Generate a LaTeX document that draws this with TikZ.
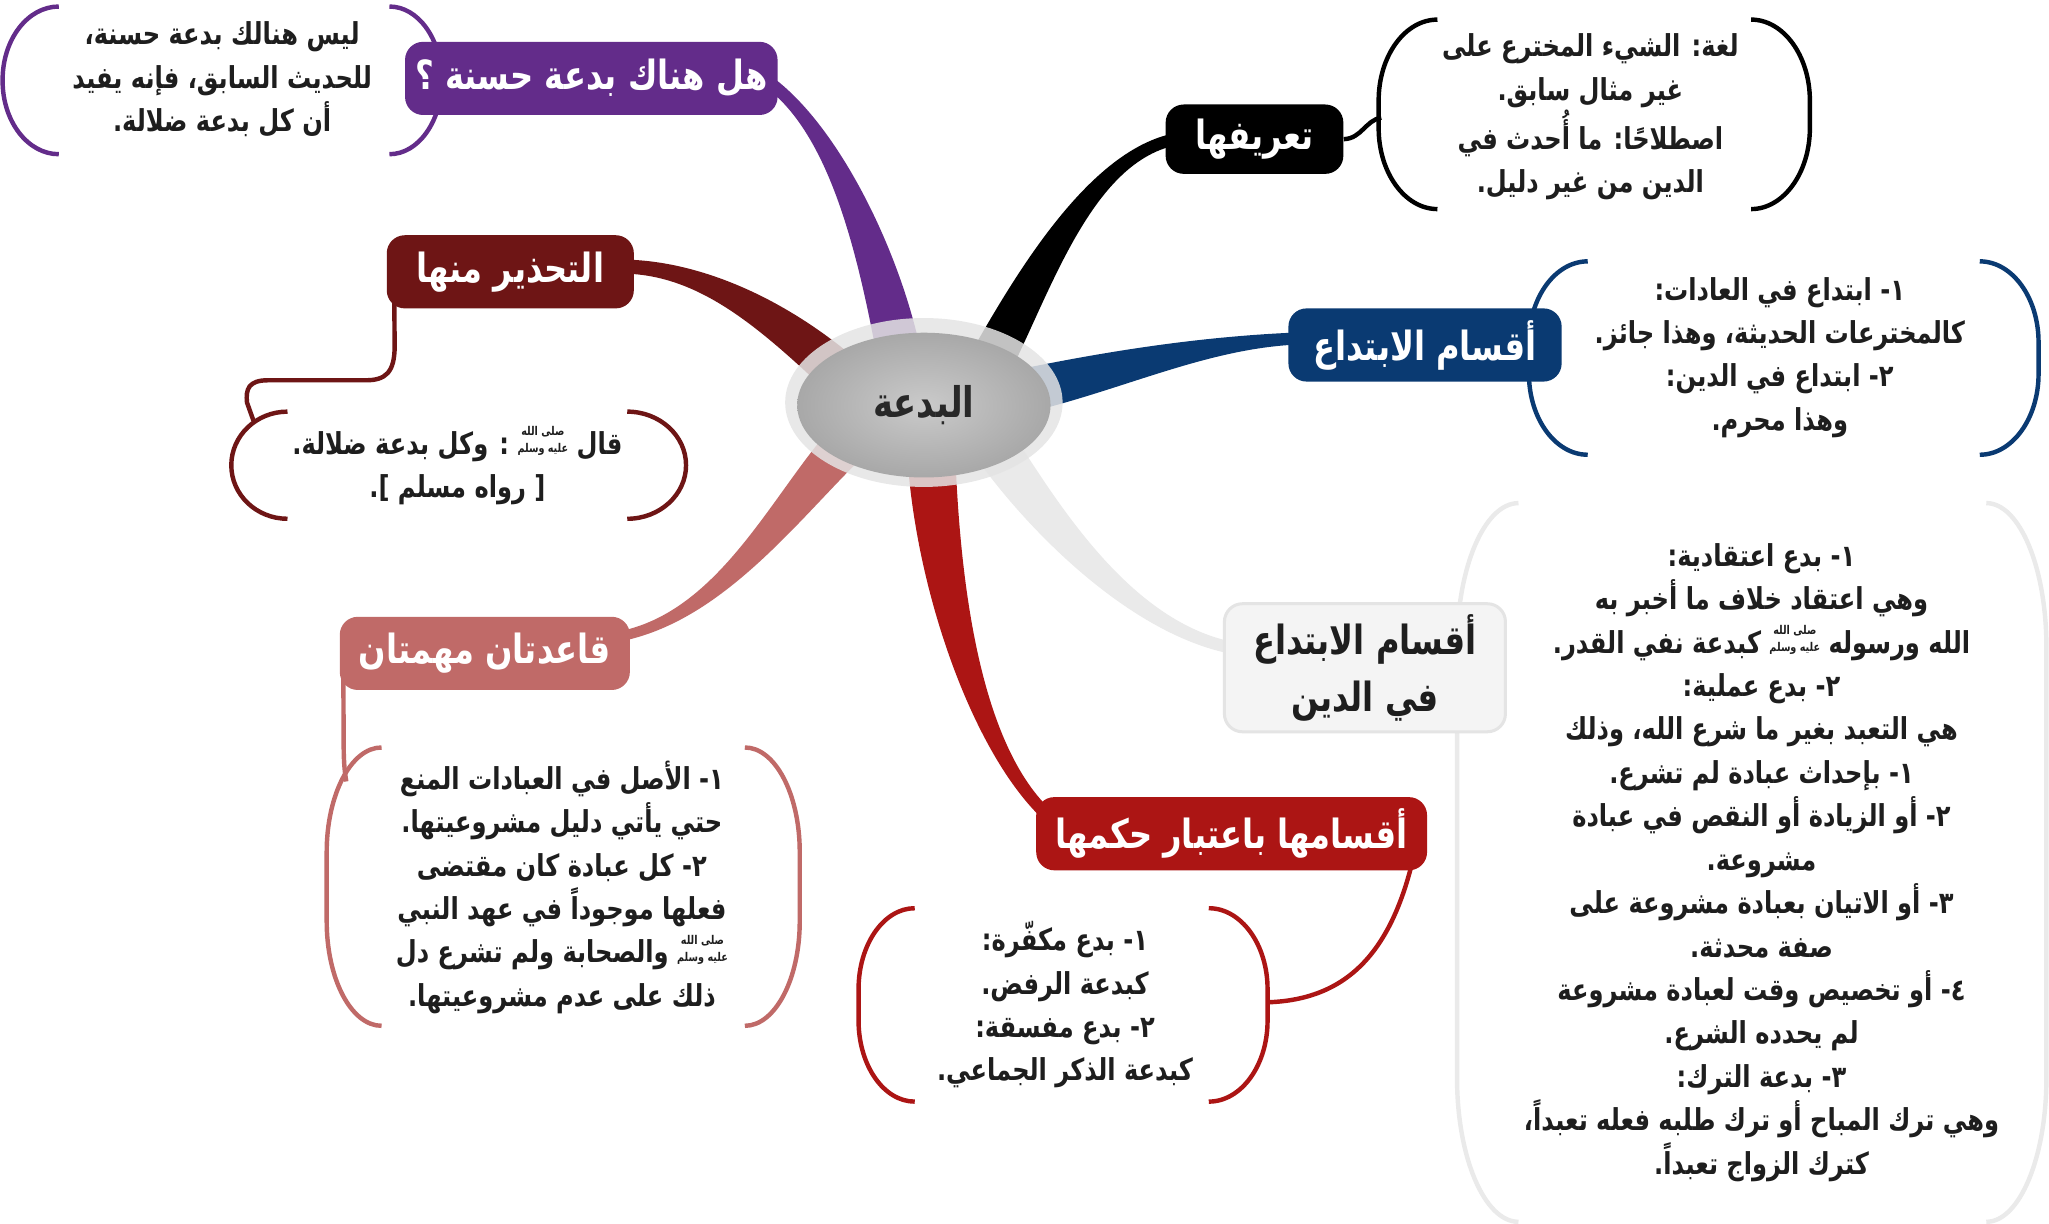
\documentclass[tikz,border=0pt]{standalone}
\usepackage{fontspec}
\newfontfamily\arfont[Script=Arabic,FakeStretch=0.8]{DejaVu Sans}
\TeXXeTstate=1
\usetikzlibrary{calc,backgrounds,shapes.geometric}
\definecolor{cpur}{RGB}{99,44,138}
\definecolor{cnavy}{RGB}{10,58,114}
\definecolor{cred}{RGB}{172,21,20}
\definecolor{cpink}{RGB}{192,106,104}
\definecolor{cdred}{RGB}{110,21,21}
\definecolor{cgline}{RGB}{234,234,234}
\definecolor{cgfill}{RGB}{244,244,244}
\definecolor{cgbord}{RGB}{228,228,228}
\definecolor{ctext}{RGB}{30,30,30}
\newcommand\rl[1]{\beginR #1\endR}
\newcommand\pbuh{\raisebox{0.05em}{\fontsize{6}{5.2}\selectfont\shortstack{\beginR صلى الله\endR\\\beginR عليه وسلم\endR}}}
\newcommand\brL[6]{\draw[#1,bub] (#3,#4) .. controls ({#2+0.448*(#3-#2)},#4) and (#2,{#4+0.448*#6}) .. (#2,{#4+#6}) -- (#2,{#5-#6}) .. controls (#2,{#5-0.448*#6}) and ({#2+0.448*(#3-#2)},#5) .. (#3,#5);}
\newcommand\brR[6]{\draw[#1,bub] (#2,#4) .. controls ({#3-0.448*(#3-#2)},#4) and (#3,{#4+0.448*#6}) .. (#3,{#4+#6}) -- (#3,{#5-#6}) .. controls (#3,{#5-0.448*#6}) and ({#3-0.448*(#3-#2)},#5) .. (#2,#5);}
\newcommand\ribbon[7]{%
  \path #2 coordinate (rS) #3 coordinate (rA) #4 coordinate (rB) #5 coordinate (rE);
  \path ($(rS)!#6!90:(rA)$) coordinate (rS1) ($(rS)!#6!-90:(rA)$) coordinate (rS2)
        ($(rE)!#7!-90:(rB)$) coordinate (rE1) ($(rE)!#7!90:(rB)$) coordinate (rE2);
  \fill[#1] (rS1) .. controls ($(rA)+(rS1)-(rS)$) and ($(rB)+(rE1)-(rE)$) .. (rE1)
     -- (rE2) .. controls ($(rB)+(rE2)-(rE)$) and ($(rA)+(rS2)-(rS)$) .. (rS2) -- cycle;}
\begin{document}
\begin{tikzpicture}[x=0.65pt,y=-0.65pt,
  bub/.style={line width=2.2pt},
  thin/.style={line width=2.2pt},
  topic/.style={rounded corners=9pt, text=white, font=\arfont\bfseries\fontsize{20}{26}\selectfont, minimum height=36.4pt, inner sep=0pt},
  note/.style={text=ctext, align=center, font=\arfont\bfseries\fontsize{15}{21.6}\selectfont, inner sep=0pt}]
\useasboundingbox (0,0) rectangle (1568,936);
% central
\node[ellipse, fill={rgb,255:red,228;green,228;blue,228}, fill opacity=0.85, minimum width=138pt, minimum height=84pt] (halo) at (707,308) {};
\node[ellipse, shade, inner color={rgb,255:red,202;green,202;blue,202}, outer color={rgb,255:red,168;green,168;blue,168}, minimum width=126pt, minimum height=72pt, text={rgb,255:red,40;green,40;blue,40}, font=\arfont\bfseries\fontsize{21}{24}\selectfont] (c) at (707,310) {\rl{البدعة}};
% topics
\node[topic, fill=cpur, minimum width=185.3pt] (q) at (452.5,60) {\rl{هل هناك بدعة حسنة ؟}};
\node[topic, fill=black, minimum width=88.4pt, minimum height=34.5pt] (tarif) at (960,106.5) {\rl{تعريفها}};
\node[topic, fill=cnavy, minimum width=135.9pt] (aqsam) at (1090.5,264) {\rl{أقسام الابتداع}};
\node[topic, fill=cgfill, draw=cgbord, line width=1.5pt, text=ctext, align=center, minimum width=139.8pt, minimum height=63.7pt, font=\arfont\bfseries\fontsize{20}{28.6}\selectfont] (aqdin) at (1044.5,511) {\rl{أقسام الابتداع}\\\rl{في الدين}};
\node[topic, fill=cred, minimum width=194.4pt] (hukm) at (942.5,638) {\rl{أقسامها باعتبار حكمها}};
\node[topic, fill=cpink, minimum width=144.3pt] (qaw) at (371,500) {\rl{قاعدتان مهمتان}};
\node[topic, fill=cdred, minimum width=122.9pt] (tah) at (390.5,208) {\rl{التحذير منها}};
% notes
\node[note] (nq) at (170,61) {\rl{ليس هنالك بدعة حسنة،}\\\rl{للحديث السابق، فإنه يفيد}\\\rl{أن كل بدعة ضلالة.}};
\node[note] (nt) at (1217,89.5) {\rl{لغة: الشيء المخترع على}\\\rl{غير مثال سابق.}\\\rl{اصطلاحًا: ما أُحدث في}\\\rl{الدين من غير دليل.}};
\node[note] (na) at (1362,273.5) {\rl{١- ابتداع في العادات:}\\\rl{كالمخترعات الحديثة، وهذا جائز.}\\\rl{٢- ابتداع في الدين:}\\\rl{وهذا محرم.}};
\node[note] (nd) at (1348,660) {\rl{١- بدع اعتقادية:}\\\rl{وهي اعتقاد خلاف ما أخبر به}\\\rl{الله ورسوله \pbuh{} كبدعة نفي القدر.}\\\rl{٢- بدع عملية:}\\\rl{هي التعبد بغير ما شرع الله، وذلك}\\\rl{١- بإحداث عبادة لم تشرع.}\\\rl{٢- أو الزيادة أو النقص في عبادة}\\\rl{مشروعة.}\\\rl{٣- أو الاتيان بعبادة مشروعة على}\\\rl{صفة محدثة.}\\\rl{٤- أو تخصيص وقت لعبادة مشروعة}\\\rl{لم يحدده الشرع.}\\\rl{٣- بدعة الترك:}\\\rl{وهي ترك المباح أو ترك طلبه فعله تعبداً،}\\\rl{كترك الزواج تعبداً.}};
\node[note] (nh) at (815,769) {\rl{١- بدع مكفّرة:}\\\rl{كبدعة الرفض.}\\\rl{٢- بدع مفسقة:}\\\rl{كبدعة الذكر الجماعي.}};
\node[note] (nk) at (430,679) {\rl{١- الأصل في العبادات المنع}\\\rl{حتي يأتي دليل مشروعيتها.}\\\rl{٢- كل عبادة كان مقتضى}\\\rl{فعلها موجوداً في عهد النبي}\\\rl{\pbuh{} والصحابة ولم تشرع دل}\\\rl{ذلك على عدم مشروعيتها.}};
\node[note] (nz) at (350,356.5) {\rl{قال \pbuh{} : وكل بدعة ضلالة.}\\\rl{[ رواه مسلم ].}};
% connection points on brackets
\coordinate (pt) at (1057,90);
\coordinate (ph) at (970,767);
\coordinate (pk) at (265,598);
\coordinate (pz) at (194,322);
\begin{pgfonlayer}{background}
\fill[white] (0,0) rectangle (1568,936);
% ribbons
\ribbon{cpur}{($(c)+(-17,-28)$)}{(675,200)}{(640,100)}{($(q.east)+(-8,2)$)}{11pt}{3pt}
\ribbon{black}{($(c)+(43,-18)$)}{(785,230)}{(830,120)}{($(tarif.west)+(8,0)$)}{11pt}{3pt}
\ribbon{cnavy}{($(c)+(63,-8)$)}{(850,285)}{(920,262)}{($(aqsam.west)+(8,-5)$)}{11pt}{3pt}
\ribbon{cgline}{($(c)+(48,22)$)}{(790,385)}{(860,480)}{($(aqdin.west)+(8,-15)$)}{11pt}{3pt}
\ribbon{cred}{($(c)+(5,22)$)}{(715,440)}{(745,570)}{($(hukm.west)+(8,-15)$)}{12pt}{3pt}
\ribbon{cpink}{($(c)+(-42,12)$)}{(610,370)}{(560,470)}{($(qaw.east)+(-8,-13)$)}{11pt}{2.5pt}
\ribbon{cdred}{($(c)+(-47,-8)$)}{(600,245)}{(540,205)}{($(tah.east)+(-8,-4)$)}{11pt}{3.5pt}
% brackets
\brL{cpur}{2}{45}{5}{118}{56}
\brR{cpur}{298}{338}{5}{118}{56}
\brL{black}{1055}{1100}{15}{160}{62}
\brR{black}{1340}{1385}{15}{160}{62}
\brL{cnavy}{1170}{1215}{200}{348}{62}
\brR{cnavy}{1515}{1560}{200}{348}{62}
\brL{cgline}{1115}{1162}{385}{935}{110}
\brR{cgline}{1520}{1566}{385}{935}{110}
\brL{cred}{657}{700}{695}{843}{62}
\brR{cred}{925}{970}{695}{843}{62}
\brL{cpink}{250}{292}{572}{785}{80}
\brR{cpink}{570}{612}{572}{785}{80}
\brL{cdred}{177}{220}{315}{397}{41}
\brR{cdred}{480}{525}{315}{397}{41}
% thin connectors
\draw[black,thin] (tarif.east) .. controls (1042,106) and (1045,92) .. (pt);
\draw[cred,thin] ($(hukm.east)+(-10,15)$) .. controls (1065,730) and (1030,765) .. (ph);
\draw[cpink,thin] ($(qaw.west)+(3,5)$) -- (263,570) .. controls (263,585) and (264,592) .. (pk);
\draw[cdred,thin] ($(tah.west)+(6,10)$) -- (302,265) .. controls (302,285) and (295,291) .. (280,291) -- (205,291) .. controls (190,291) and (188,298) .. (189,308) -- (pz);
\end{pgfonlayer}
\end{tikzpicture}
\end{document}
